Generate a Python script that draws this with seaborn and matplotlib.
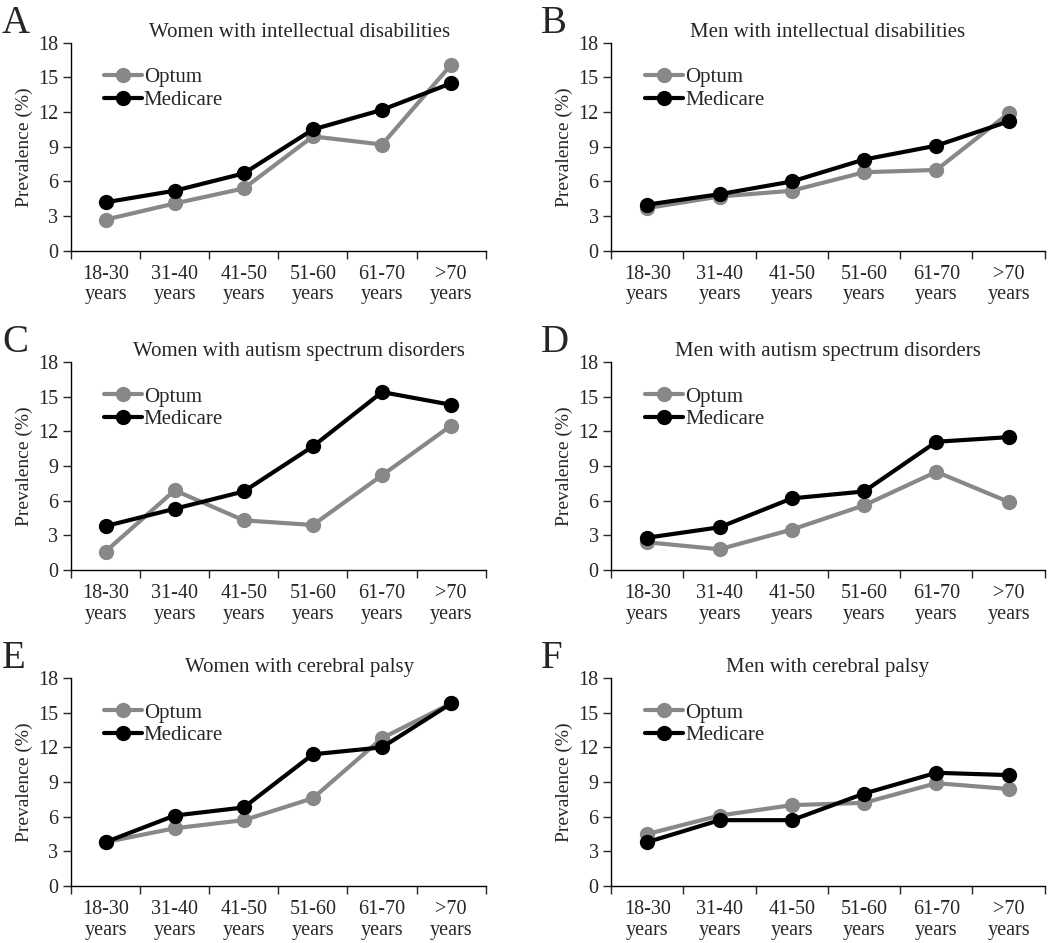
import numpy as np
import pandas as pd
import seaborn as sns
import matplotlib.pyplot as plt

age_groups = ['18-30\nyears', '31-40\nyears', '41-50\nyears', '51-60\nyears', '61-70\nyears', '>70\nyears']
panel_letters = ['A', 'B', 'C', 'D', 'E', 'F']
panel_titles = ['Women with intellectual disabilities', 'Men with intellectual disabilities',
                'Women with autism spectrum disorders', 'Men with autism spectrum disorders',
                'Women with cerebral palsy', 'Men with cerebral palsy']

optum_A = [2.7, 4.1, 5.4, 9.9, 9.2, 16.1]
medicare_A = [4.2, 5.2, 6.7, 10.5, 12.2, 14.5]
optum_B = [3.7, 4.7, 5.2, 6.8, 7.0, 11.9]
medicare_B = [4.0, 4.9, 6.0, 7.9, 9.1, 11.2]
optum_C = [1.6, 6.9, 4.3, 3.9, 8.2, 12.5]
medicare_C = [3.8, 5.3, 6.8, 10.7, 15.4, 14.3]
optum_D = [2.4, 1.8, 3.5, 5.6, 8.5, 5.9]
medicare_D = [2.8, 3.7, 6.2, 6.8, 11.1, 11.5]
optum_E = [3.8, 5.0, 5.7, 7.6, 12.8, 15.8]
medicare_E = [3.8, 6.1, 6.8, 11.4, 12.0, 15.8]
optum_F = [4.5, 6.1, 7.0, 7.2, 8.9, 8.4]
medicare_F = [3.8, 5.7, 5.7, 8.0, 9.8, 9.6]

optum = [optum_A, optum_B, optum_C, optum_D, optum_E, optum_F]
medicare = [medicare_A, medicare_B, medicare_C, medicare_D, medicare_E, medicare_F]

sns.set_style('white')
plt.rcParams['font.family'] = ['Liberation Serif', 'DejaVu Serif']

fig = plt.figure(figsize=(10.5, 9.43), dpi=100)

lefts = [0.0676, 0.582]
bottoms = [0.734, 0.3955, 0.0604]
h = 0.2206
palette = {'Optum': '#888888', 'Medicare': '#000000'}

for i in range(6):
    row, col = i // 2, i % 2
    width = 0.395 if col == 0 else 0.413
    ax = fig.add_axes([lefts[col], bottoms[row], width, h])
    df = pd.DataFrame({
        'pos': list(range(6)) * 2,
        'value': optum[i] + medicare[i],
        'Source': ['Optum'] * 6 + ['Medicare'] * 6,
    })
    sns.lineplot(data=df, x='pos', y='value', hue='Source', palette=palette,
                 marker='o', markersize=11, markeredgewidth=0, linewidth=3, ax=ax)
    ax.set_xlim(-0.5, 5.5)
    ax.set_ylim(0, 18)
    ax.set_yticks(np.arange(0, 19, 3))
    ax.set_xticks(range(6))
    ax.set_xticklabels(age_groups, fontsize=14.5, linespacing=1.12)
    ax.set_xticks(np.arange(-0.5, 6, 1), minor=True)
    ax.tick_params(axis='x', which='major', length=0, pad=10)
    ax.tick_params(axis='x', which='minor', length=6, width=1, direction='out', bottom=True)
    ax.tick_params(axis='y', length=6, width=1, direction='out', left=True, labelsize=14.5, pad=3)
    ax.set_xlabel('')
    ax.set_ylabel('Prevalence (%)', fontsize=14, labelpad=4)
    for s in ['top', 'right']:
        ax.spines[s].set_visible(False)
    for s in ['left', 'bottom']:
        ax.spines[s].set_color('black')
        ax.spines[s].set_linewidth(1)
    ax.set_title(panel_titles[i], fontsize=15, pad=4, x=0.55 if col == 0 else 0.5)
    ax.legend(loc='upper left', bbox_to_anchor=(0.06, 0.92), frameon=False,
              fontsize=15, handlelength=1.8, handletextpad=0.1,
              labelspacing=0.15, borderaxespad=0)
    bb = ax.get_position()
    fig.text(0.002 if col == 0 else 0.515, bb.y1 + 10 / 943, panel_letters[i],
             fontsize=28, ha='left', va='baseline')

fig.savefig('out.png', dpi=100)
